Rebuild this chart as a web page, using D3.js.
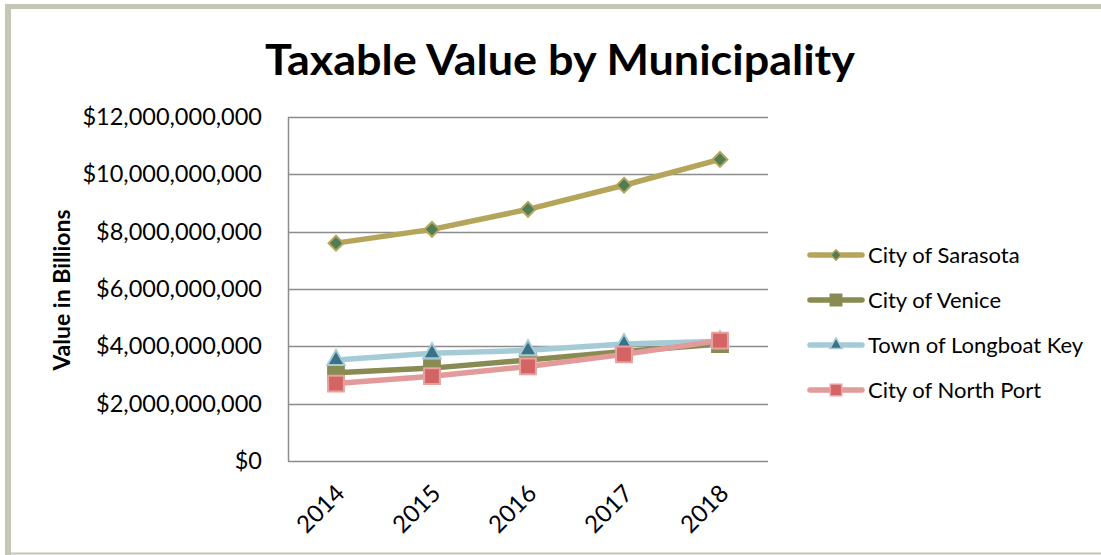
<!DOCTYPE html>
<html>
<head>
<meta charset="utf-8">
<script src="https://cdn.jsdelivr.net/npm/d3@7"></script>
<style>
  body { margin: 0; background: #fff; }
  svg { display: block; }
</style>
</head>
<body>
<div id="chart"></div>
<script>
// chart data
const years = ["2014", "2015", "2016", "2017", "2018"];
const sarasota = [7.6e9, 8.08e9, 8.78e9, 9.62e9, 10.52e9];
const venice = [3.08e9, 3.24e9, 3.52e9, 3.82e9, 4.08e9];
const longboat = [3.52e9, 3.76e9, 3.86e9, 4.08e9, 4.18e9];
const northPort = [2.7e9, 2.96e9, 3.3e9, 3.72e9, 4.2e9];
const yTicks = [0, 2e9, 4e9, 6e9, 8e9, 10e9, 12e9];

const series = [
    { name: "City of Sarasota", values: sarasota, line: "#b4a55b", fill: "#4f7d56", stroke: "#b4a55b", shape: "diamond" },
    { name: "City of Venice", values: venice, line: "#8a8b52", fill: "#8a8b52", stroke: "#8a8b52", shape: "square" },
    { name: "Town of Longboat Key", values: longboat, line: "#a5ccd6", fill: "#3a7186", stroke: "#a5ccd6", shape: "triangle" },
    { name: "City of North Port", values: northPort, line: "#e39a9a", fill: "#d26464", stroke: "#e8a0a0", shape: "square" }
];

const width = 1101, height = 555;
const margin = { top: 117, right: 333, bottom: 94, left: 288 };
const font = "Lato, 'Open Sans', sans-serif";

const svg = d3.select("#chart").append("svg")
    .attr("width", width)
    .attr("height", height);

// outer frame
svg.append("line").attr("x1", 8).attr("x2", 8).attr("y1", 4).attr("y2", 555)
    .attr("stroke", "#c6c6b6").attr("stroke-width", 6);
svg.append("line").attr("x1", 5).attr("x2", width).attr("y1", 6.5).attr("y2", 6.5)
    .attr("stroke", "#c6c6b6").attr("stroke-width", 5);
svg.append("line").attr("x1", 5).attr("x2", width).attr("y1", 553.5).attr("y2", 553.5)
    .attr("stroke", "#c6c6b6").attr("stroke-width", 2);

// title
svg.append("text")
    .attr("x", 560)
    .attr("y", 75)
    .attr("text-anchor", "middle")
    .attr("font-family", font)
    .attr("font-size", "42px")
    .attr("font-weight", "bold")
    .attr("textLength", 590)
    .attr("lengthAdjust", "spacingAndGlyphs")
    .text("Taxable Value by Municipality");

const x = d3.scaleBand()
    .domain(years)
    .range([margin.left, width - margin.right]);

const y = d3.scaleLinear()
    .domain([0, 12e9])
    .range([height - margin.bottom, margin.top]);

// gridlines
svg.append("g")
    .selectAll("line")
    .data(yTicks)
    .join("line")
    .attr("x1", margin.left)
    .attr("x2", width - margin.right)
    .attr("y1", d => Math.round(y(d)) + 0.5)
    .attr("y2", d => Math.round(y(d)) + 0.5)
    .attr("stroke", "#8c8c8c")
    .attr("stroke-width", 1.5);

// y axis line
svg.append("line")
    .attr("x1", margin.left + 0.5).attr("x2", margin.left + 0.5)
    .attr("y1", y(12e9)).attr("y2", y(0))
    .attr("stroke", "#8c8c8c").attr("stroke-width", 1.5);

// y tick labels
const fmt = d => "$" + d3.format(",")(d);
svg.append("g")
    .selectAll("text")
    .data(yTicks)
    .join("text")
    .attr("x", 262)
    .attr("y", d => y(d) + 8)
    .attr("text-anchor", "end")
    .attr("font-family", font)
    .attr("font-size", "23.5px")
    .attr("fill", "#000")
    .text(fmt);

// x tick labels
svg.append("g")
    .selectAll("text")
    .data(years)
    .join("text")
    .attr("transform", d => `translate(${x(d) + x.bandwidth() / 2 + 10},${y(0) + 34}) rotate(-45)`)
    .attr("text-anchor", "end")
    .attr("font-family", font)
    .attr("font-size", "24px")
    .attr("fill", "#000")
    .text(d => d);

// y axis title
svg.append("text")
    .attr("transform", `translate(70,290) rotate(-90)`)
    .attr("text-anchor", "middle")
    .attr("font-family", font)
    .attr("font-size", "23px")
    .attr("font-weight", "bold")
    .text("Value in Billions");

function markerPath(shape, big) {
    if (shape === "diamond") return d3.symbol(d3.symbolDiamond2, big ? 140 : 70)();
    if (shape === "triangle") return d3.symbol(d3.symbolTriangle, big ? 130 : 65)();
    return d3.symbol(d3.symbolSquare, big ? 250 : 130)();
}

const line = d3.line()
    .x((d, i) => x(years[i]) + x.bandwidth() / 2)
    .y(d => y(d));

series.forEach(s => {
    const g = svg.append("g");
    g.append("path")
        .attr("d", line(s.values))
        .attr("fill", "none")
        .attr("stroke", s.line)
        .attr("stroke-width", 5.5)
        .attr("stroke-linejoin", "round");
    g.selectAll("path.m")
        .data(s.values)
        .join("path")
        .attr("class", "m")
        .attr("d", markerPath(s.shape, true))
        .attr("transform", (d, i) => `translate(${x(years[i]) + x.bandwidth() / 2},${y(d)})`)
        .attr("fill", s.fill)
        .attr("stroke", s.stroke)
        .attr("stroke-width", 2);
});

// legend
const legend = svg.append("g");
series.forEach((s, i) => {
    const ly = 255 + i * 45;
    legend.append("line")
        .attr("x1", 810).attr("x2", 862)
        .attr("y1", ly).attr("y2", ly)
        .attr("stroke", s.line)
        .attr("stroke-width", 5.5)
        .attr("stroke-linecap", "round");
    legend.append("path")
        .attr("d", markerPath(s.shape, false))
        .attr("transform", `translate(836,${ly})`)
        .attr("fill", s.fill)
        .attr("stroke", s.stroke)
        .attr("stroke-width", 1.5);
    legend.append("text")
        .attr("x", 868)
        .attr("y", ly + 8)
        .attr("font-family", font)
        .attr("font-size", "22px")
        .attr("fill", "#000")
        .text(s.name);
});
</script>
</body>
</html>
